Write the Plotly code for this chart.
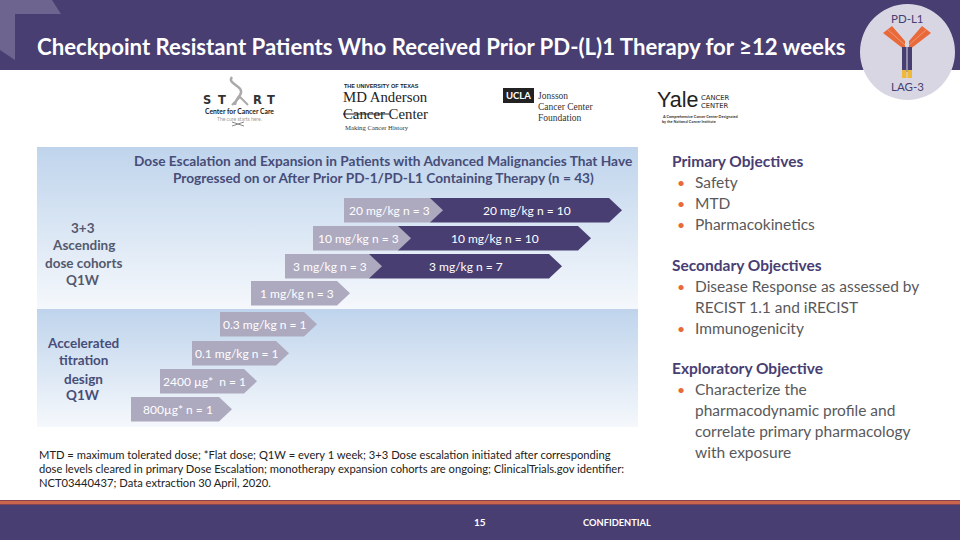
import plotly.graph_objects as go

# Цвета слайда
PURPLE = '#483E72'
GREY = '#ADA9BF'
ORANGE = '#E8693A'
TEXT = '#59595B'

# Заголовок и подписи
title = 'Checkpoint Resistant Patients Who Received Prior PD-(L)1 Therapy for ≥12 weeks'
heading = ['Dose Escalation and Expansion in Patients with Advanced Malignancies That Have',
           'Progressed on or After Prior PD-1/PD-L1 Containing Therapy (n = 43)']
upper_group = ['3+3', 'Ascending', 'dose cohorts', 'Q1W']
lower_group = ['Accelerated', 'titration', 'design', 'Q1W']

# Серые стрелки: подпись, начало, конец, верх
grey_labels = ['20 mg/kg n = 3', '10 mg/kg n = 3', '3 mg/kg n = 3', '1 mg/kg n = 3',
               '0.3 mg/kg n = 1', '0.1 mg/kg n = 1', '2400 µg*  n = 1', '800µg* n = 1']
grey_start = [344, 313, 285, 251, 220, 192, 160, 131]
grey_end = [443, 411, 382, 350, 317, 289, 257, 232]
grey_top = [198, 226, 254, 281, 312, 341, 369, 397]

# Темные стрелки
dark_labels = ['20 mg/kg n = 10', '10 mg/kg n = 10', '3 mg/kg n = 7']
dark_end = [622, 591, 562]

# Правая колонка
objectives = [('Primary Objectives', 161, True), ('Safety', 182, False), ('MTD', 203, False),
              ('Pharmacokinetics', 224, False), ('Secondary Objectives', 265, True),
              ('Disease Response as assessed by', 286, False), ('RECIST 1.1 and iRECIST', 307, None),
              ('Immunogenicity', 328, False), ('Exploratory Objective', 368, True),
              ('Characterize the', 389, False), ('pharmacodynamic profile and', 410, None),
              ('correlate primary pharmacology', 431, None), ('with exposure', 452, None)]

# Сноска
footnote = ['MTD = maximum tolerated dose; *Flat dose; Q1W = every 1 week; 3+3 Dose escalation initiated after corresponding',
            'dose levels cleared in primary Dose Escalation; monotherapy expansion cohorts are ongoing; ClinicalTrials.gov identifier:',
            'NCT03440437; Data extraction 30 April, 2020.']

fig = go.Figure()


# Подпись без стрелки
def text_add(x, y, text, size=12, color=TEXT, bold=False, anchor='left', font='Lato'):
    if bold:
        text = '<b>' + text + '</b>'
    fig.add_annotation(x=x, y=y, text=text, showarrow=False, xanchor=anchor, yanchor='middle',
                       font=dict(family=font, size=size, color=color))


# Прямоугольник
def rect_add(x0, y0, x1, y1, color):
    fig.add_shape(type='rect', x0=x0, y0=y0, x1=x1, y1=y1, fillcolor=color, line=dict(width=0))


# Многоугольник
def poly_add(points, color):
    path = 'M ' + ' L '.join(f'{x},{y}' for x, y in points) + ' Z'
    fig.add_shape(type='path', path=path, fillcolor=color, line=dict(width=0))


# Панели с градиентом
for y0, y1 in [(147, 309), (309, 427)]:
    fig.add_trace(go.Scatter(x=[37, 638, 638, 37, 37], y=[y0, y0, y1, y1, y0], mode='lines', fill='toself',
                             line=dict(width=0), hoverinfo='skip',
                             fillgradient=dict(type='vertical', colorscale=[[0, '#F5F8FC'], [1, '#BFD4EC']])))

# Шапка и подвал
rect_add(0, 0, 960, 70, PURPLE)
poly_add([(0, 0), (52, 0), (61, 14), (15, 14), (15, 60), (0, 50)], '#6D658F')
rect_add(0, 500, 960, 505, '#8A4350')
rect_add(0, 501, 960, 504, '#C9664B')
rect_add(0, 505, 960, 540, PURPLE)
text_add(35, 46, title, size=22.2, color='white', bold=True)
text_add(480, 522, '15', size=10, color='white', bold=True, anchor='center')
text_add(617, 522, 'CONFIDENTIAL', size=9.3, color='white', bold=True, anchor='center')

# Значок антитела
fig.add_shape(type='circle', x0=860, y0=4, x1=955, y1=100, fillcolor='#D9D6E4', line=dict(width=0))
text_add(907, 18, 'PD-L1', size=11.5, color=PURPLE, anchor='center')
text_add(907, 86, 'LAG-3', size=11.5, color=PURPLE, anchor='center')
poly_add([(892, 26), (905, 41), (905, 50), (883, 33)], ORANGE)
poly_add([(922, 26), (909, 41), (909, 50), (931, 33)], ORANGE)
fig.add_shape(type='line', x0=887, y0=29, x1=905, y1=45, line=dict(color='#F4A27C', width=0.8))
fig.add_shape(type='line', x0=927, y0=29, x1=909, y1=45, line=dict(color='#F4A27C', width=0.8))
rect_add(902, 47, 906.5, 72, PURPLE)
rect_add(907.5, 47, 912, 72, PURPLE)
rect_add(902, 70, 906.5, 78, '#EDB93A')
rect_add(907.5, 70, 912, 78, '#EDB93A')

# Логотип START
fig.add_shape(type='path', path='M 232,77 C 226,84 246,86 240,95 C 236,100 235,102 235,105',
              line=dict(color='#AAAAAA', width=2.5))
fig.add_shape(type='path', path='M 232,105 L 240,97 L 248,105', line=dict(color='#AAAAAA', width=2))
fig.add_shape(type='path', path='M 232,122 L 244,126 M 244,122 L 232,126', line=dict(color='#888888', width=1))
for letter, x in zip(['S', 'T', 'R', 'T'], [207, 222, 257, 271]):
    text_add(x, 100, letter, size=11.5, color='#333333', bold=True, anchor='center', font='DejaVu Sans')
text_add(239, 111, 'Center for Cancer Care', size=6.8, color='#222222', bold=True, anchor='center')
text_add(239, 118.5, 'The cure starts here.', size=5, color='#999999', anchor='center')

# Логотип MD Anderson
text_add(342, 85.5, 'THE UNIVERSITY OF TEXAS', size=5.5, color='#222222', bold=True, font='Liberation Sans')
text_add(341, 97, 'MD Anderson', size=14.8, color='#222222', font='Liberation Serif')
text_add(341, 113.5, 'Cancer Center', size=14.8, color='#222222', font='Liberation Serif')
rect_add(343, 113.5, 389, 114.5, '#222222')
text_add(343, 127.5, 'Making Cancer History', size=6.7, color='#333333', font='Liberation Serif')

# Логотип UCLA
rect_add(503, 88, 534, 103, '#222222')
text_add(518.5, 95.5, 'UCLA', size=9.5, color='white', bold=True, anchor='center')
text_add(536, 96, 'Jonsson', size=9.5, color='#333333', font='Liberation Serif')
text_add(536, 107, 'Cancer Center', size=9.5, color='#333333', font='Liberation Serif')
text_add(536, 118, 'Foundation', size=9.5, color='#333333', font='Liberation Serif')

# Логотип Yale
text_add(655, 100, 'Yale', size=21.5, color='#222222', font='Liberation Sans')
text_add(699, 98, 'CANCER', size=6.8, color='#222222', font='DejaVu Sans')
text_add(699, 106, 'CENTER', size=6.8, color='#222222', font='DejaVu Sans')
text_add(660, 116, 'A Comprehensive Cancer Center Designated', size=3.8, color='#333333', bold=True)
text_add(660, 121, 'by the National Cancer Institute', size=3.8, color='#333333', bold=True)

# Заголовок панели
for text, y in zip(heading, [160, 177]):
    text_add(383, y, text, size=13.7, color='#474D78', bold=True, anchor='center')

# Подписи групп
for text, y in zip(upper_group, [228, 245, 263, 280]):
    text_add(83, y, text, size=13.5, color='#54596E', bold=True, anchor='center')
for text, y in zip(lower_group, [343, 360, 379, 395]):
    text_add(83, y, text, size=13.5, color='#474D78', bold=True, anchor='center')

# Стрелки (сначала темные, серые поверх)
for i, label in enumerate(dark_labels):
    top, bottom = grey_top[i], grey_top[i] + 24.5
    mid = (top + bottom) / 2
    body = grey_end[i] - 13
    poly_add([(body, top), (dark_end[i] - 13, top), (dark_end[i], mid), (dark_end[i] - 13, bottom), (body, bottom)], PURPLE)
    text_add((grey_end[i] + dark_end[i]) / 2 - 6, mid, label, size=12, color='white', anchor='center')

for i, label in enumerate(grey_labels):
    top, bottom = grey_top[i], grey_top[i] + 24.5
    mid = (top + bottom) / 2
    poly_add([(grey_start[i], top), (grey_end[i] - 13, top), (grey_end[i], mid), (grey_end[i] - 13, bottom), (grey_start[i], bottom)], GREY)
    text_add((grey_start[i] + grey_end[i]) / 2 - 4, mid, label, size=12, color='white', anchor='center')

# Цели исследования
for text, y, kind in objectives:
    if kind:
        text_add(670, y, text, size=15.5, color=PURPLE, bold=True)
    else:
        if kind is False:
            text_add(675, y, '•', size=14, color=ORANGE)
        text_add(693, y, text, size=15.5, color=TEXT)

# Сноска
for text, y in zip(footnote, [454, 468, 482]):
    text_add(37, y, text, size=11.2, color='#222222')

fig.update_layout(
    width=960,
    height=540,
    margin=dict(l=0, r=0, t=0, b=0),
    paper_bgcolor='white',
    plot_bgcolor='white',
    showlegend=False,
    xaxis=dict(range=[0, 960], visible=False),
    yaxis=dict(range=[540, 0], visible=False)  # Ось Y сверху вниз
)

fig.write_html('out.html', config=dict(displayModeBar=False),  # Без панели кнопок
               post_script="document.body.style.margin='0'")  # Убираем отступ страницы
